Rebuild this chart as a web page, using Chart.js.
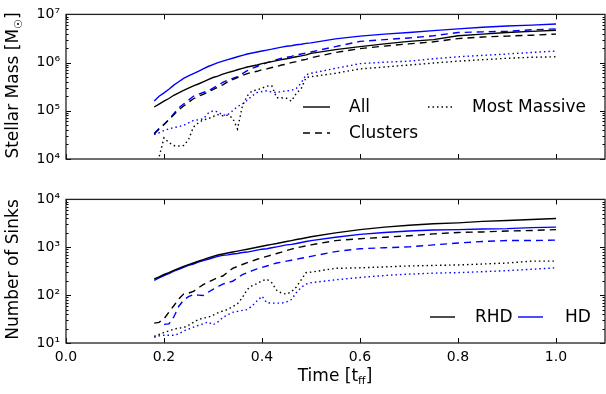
<!DOCTYPE html>
<html lang="en">
<head>
<meta charset="UTF-8">
<title>Stellar mass and sinks</title>
<style>
  body { margin: 0; background: #fff; }
  .panel { position: absolute; left: 0; width: 606px; }
</style>
</head>
<body>
<div class="panel" style="top:0; height:185px;"><canvas id="massChart"></canvas></div>
<div class="panel" style="top:185px; height:209px;"><canvas id="sinkChart"></canvas></div>

<script src="https://cdn.jsdelivr.net/npm/chart.js"></script>
<script>
// time in free-fall times
const time = [0.18, 0.19, 0.20, 0.21, 0.22, 0.23, 0.24, 0.25, 0.26, 0.27, 0.28, 0.29, 0.30,
    0.31, 0.32, 0.33, 0.34, 0.35, 0.36, 0.37, 0.38, 0.39, 0.40, 0.41, 0.42, 0.43, 0.44,
    0.45, 0.46, 0.47, 0.48, 0.49, 0.50, 0.55, 0.60, 0.65, 0.70, 0.75, 0.80, 0.85, 0.90, 0.95, 1.00];

// stellar mass [Msun]
const massAllRHD = [1.2e5, 1.38e5, 1.58e5, 1.8e5, 2.1e5, 2.35e5, 2.65e5, 2.95e5, 3.3e5, 3.6e5, 4.0e5, 4.45e5, 4.9e5,
    5.25e5, 5.75e5, 6.2e5, 6.6e5, 7.1e5, 7.6e5, 8.1e5, 8.5e5, 8.9e5, 9.5e5, 1.0e6, 1.05e6, 1.1e6, 1.15e6,
    1.2e6, 1.26e6, 1.32e6, 1.38e6, 1.45e6, 1.55e6, 1.86e6, 2.15e6, 2.45e6, 2.75e6, 3.0e6, 3.6e6, 3.9e6, 4.2e6, 4.45e6, 4.7e6];
const massAllHD = [1.6e5, 2.0e5, 2.35e5, 2.8e5, 3.4e5, 4.0e5, 4.7e5, 5.3e5, 5.9e5, 6.6e5, 7.4e5, 8.3e5, 9.1e5,
    1.0e6, 1.07e6, 1.15e6, 1.23e6, 1.32e6, 1.41e6, 1.51e6, 1.58e6, 1.66e6, 1.74e6, 1.82e6, 1.9e6, 2.0e6, 2.1e6,
    2.19e6, 2.24e6, 2.34e6, 2.4e6, 2.5e6, 2.57e6, 3.1e6, 3.55e6, 3.9e6, 4.2e6, 4.6e6, 5.0e6, 5.4e6, 5.75e6, 6.0e6, 6.3e6];
const massClRHD = [3.3e4, 4.2e4, 5.2e4, 6.6e4, 8.3e4, 1.05e5, 1.26e5, 1.5e5, 1.78e5, 2.0e5, 2.2e5, 2.45e5, 2.75e5,
    3.1e5, 3.45e5, 4.0e5, 4.45e5, 4.9e5, 5.4e5, 5.9e5, 6.3e5, 6.6e5, 7.1e5, 7.4e5, 7.9e5, 8.3e5, 8.9e5,
    9.3e5, 1.0e6, 1.05e6, 1.12e6, 1.17e6, 1.26e6, 1.62e6, 1.95e6, 2.2e6, 2.45e6, 2.7e6, 3.15e6, 3.4e6, 3.55e6, 3.7e6, 3.9e6];
const massClHD = [3.4e4, 4.3e4, 5.2e4, 6.6e4, 8.7e4, 1.15e5, 1.38e5, 1.66e5, 2.0e5, 2.2e5, 2.4e5, 2.6e5, 2.95e5,
    3.4e5, 3.9e5, 4.3e5, 4.7e5, 5.1e5, 5.9e5, 6.8e5, 7.6e5, 8.3e5, 9.1e5, 1.0e6, 1.07e6, 1.15e6, 1.23e6,
    1.29e6, 1.35e6, 1.45e6, 1.51e6, 1.58e6, 1.66e6, 2.15e6, 2.75e6, 3.0e6, 3.25e6, 3.6e6, 4.2e6, 4.35e6, 4.45e6, 4.8e6, 5.0e6];
const massMaxRHD = [8e3, 1.1e4, 2.75e4, 2.2e4, 1.9e4, 1.86e4, 1.9e4, 2.5e4, 4.6e4, 5.6e4, 6.5e4, 6.8e4, 7.6e4,
    8.3e4, 7.9e4, 8.1e4, 7.1e4, 4.2e4, 1.26e5, 2.05e5, 2.6e5, 2.7e5, 2.95e5, 3.25e5, 3.3e5, 1.86e5, 1.86e5,
    1.82e5, 1.58e5, 2.3e5, 2.9e5, 4.9e5, 5.1e5, 6.0e5, 7.4e5, 8.1e5, 8.9e5, 9.8e5, 1.07e6, 1.15e6, 1.23e6, 1.29e6, 1.32e6];
const massMaxHD = [3.2e4, 3.5e4, 3.9e4, 4.2e4, 4.5e4, 4.7e4, 5.0e4, 5.6e4, 6.3e4, 6.5e4, 6.8e4, 8.9e4, 1.0e5,
    9.5e4, 8.1e4, 8.3e4, 1.0e5, 1.23e5, 1.38e5, 1.66e5, 2.05e5, 2.4e5, 2.5e5, 2.6e5, 2.45e5, 2.4e5, 2.5e5,
    2.6e5, 2.65e5, 2.9e5, 3.8e5, 5.6e5, 6.0e5, 7.6e5, 9.5e5, 1.02e6, 1.07e6, 1.2e6, 1.32e6, 1.41e6, 1.51e6, 1.62e6, 1.74e6];

// number of sinks
const sinksAllRHD = [219, 240, 270, 295, 330, 363, 400, 435, 470, 510, 550, 600, 645,
    690, 725, 760, 795, 830, 870, 910, 955, 1000, 1050, 1100, 1150, 1200, 1260,
    1320, 1380, 1450, 1510, 1580, 1660, 2000, 2340, 2630, 2880, 3090, 3240, 3470, 3630, 3800, 3980];
const sinksAllHD = [204, 229, 257, 282, 316, 347, 380, 417, 447, 490, 525, 562, 603,
    645, 676, 692, 724, 741, 776, 794, 832, 871, 912, 933, 977, 1020, 1070,
    1120, 1150, 1200, 1260, 1320, 1380, 1620, 1860, 2040, 2190, 2290, 2340, 2400, 2450, 2570, 2630];
const sinksClRHD = [26, 27, 32, 44, 60, 83, 105, 110, 120, 141, 166, 186, 209,
    234, 251, 302, 363, 398, 437, 479, 513, 562, 603, 646, 692, 741, 794,
    851, 912, 977, 1020, 1070, 1120, 1380, 1510, 1620, 1740, 1900, 2040, 2090, 2190, 2240, 2340];
const sinksClHD = [null, null, 24.5, 25, 35, 58, 79, 93, 102, 100, 98, 115, 132,
    151, 170, 182, 195, 229, 269, 295, 324, 355, 380, 407, 437, 468, 490,
    513, 537, 562, 589, 617, 646, 813, 933, 977, 1020, 1120, 1230, 1320, 1380, 1380, 1410];
const sinksMaxRHD = [13.8, 15.1, 16.6, 17.8, 19.5, 20.4, 20.9, 23.4, 26.9, 30.9, 33.1, 34.7, 38,
    42.7, 46.8, 50, 57.5, 66, 89, 132, 158, 174, 200, 214, 182, 126, 110,
    105, 117, 148, 209, 295, 302, 363, 372, 389, 407, 417, 427, 447, 468, 513, 513];
const sinksMaxHD = [13.2, 14.1, 14.5, 14.5, 14.5, 15.5, 17.8, 19.5, 21.4, 23.4, 25.1, 27.5, 24,
    27.5, 33.9, 38.9, 43.7, 45.7, 47.9, 50, 60, 76, 95, 69, 68, 68, 68,
    72, 81, 112, 145, 170, 182, 209, 234, 257, 275, 288, 295, 309, 324, 347, 372];

const xTicks = [0.0, 0.2, 0.4, 0.6, 0.8, 1.0];
const massTicks = [1e4, 1e5, 1e6, 1e7];
const sinkTicks = [1e1, 1e2, 1e3, 1e4];
const styleLabels = ['All', 'Clusters', 'Most Massive'];
const runLabels = ['RHD', 'HD'];

const FONT = "'DejaVu Sans', sans-serif";
const BLACK = '#000000';
const BLUE = '#0000ff';
const DASH = [7, 5];
const DOT = [1.5, 3];

const SUP = {'0': '⁰', '1': '¹', '2': '²', '3': '³', '4': '⁴', '5': '⁵', '6': '⁶', '7': '⁷', '8': '⁸', '9': '⁹'};
function powLabel(v) {
    const e = Math.round(Math.log10(v));
    return '10' + String(e).split('').map(c => SUP[c]).join('');
}

function series(label, values, color, dash) {
    return {
        label: label,
        data: values.map((v, i) => ({x: time[i], y: v})),
        borderColor: color,
        borderWidth: 1.4,
        borderDash: dash,
        pointRadius: 0,
        fill: false,
        tension: 0,
        spanGaps: false
    };
}

// frame + inward ticks like the old matplotlib style
const framePlugin = {
    id: 'frame',
    afterDraw(chart) {
        const ctx = chart.ctx;
        const a = chart.chartArea;
        const xs = chart.scales.x, ys = chart.scales.y;
        ctx.save();
        ctx.strokeStyle = '#000';
        ctx.lineWidth = 1;
        ctx.beginPath();
        xTicks.forEach(v => {
            const px = Math.round(xs.getPixelForValue(v)) + 0.5;
            ctx.moveTo(px, a.bottom); ctx.lineTo(px, a.bottom - 5);
            ctx.moveTo(px, a.top); ctx.lineTo(px, a.top + 5);
        });
        const lo = Math.log10(ys.min), hi = Math.log10(ys.max);
        for (let e = lo; e <= hi; e++) {
            for (let k = 1; k <= 9; k++) {
                const v = k * Math.pow(10, e);
                if (v > ys.max * 1.0001) break;
                const len = k === 1 ? 5 : 2.5;
                const py = Math.round(ys.getPixelForValue(v)) + 0.5;
                ctx.moveTo(a.left, py); ctx.lineTo(a.left + len, py);
                ctx.moveTo(a.right, py); ctx.lineTo(a.right - len, py);
            }
        }
        ctx.stroke();
        ctx.lineWidth = 1.3;
        ctx.strokeStyle = '#222';
        ctx.strokeRect(a.left, a.top, a.right - a.left, a.bottom - a.top);
        ctx.restore();
    }
};

function legendLine(ctx, x, y, len, color, dash) {
    ctx.beginPath();
    ctx.strokeStyle = color;
    ctx.lineWidth = 1.4;
    ctx.setLineDash(dash);
    ctx.moveTo(x, y); ctx.lineTo(x + len, y);
    ctx.stroke();
    ctx.setLineDash([]);
}

// draws a title in pieces so a subscript can sit in it
function drawParts(ctx, parts, cx, cy) {
    let total = 0;
    parts.forEach(p => {
        ctx.font = p.size + 'px ' + FONT;
        p.w = ctx.measureText(p.text).width;
        total += p.w;
    });
    let x = cx - total / 2;
    parts.forEach(p => {
        ctx.font = p.size + 'px ' + FONT;
        ctx.fillText(p.text, x, cy + (p.shift || 0));
        x += p.w;
    });
}

function titlePlugin(yParts, yCenter, xParts) {
    return {
        id: 'titles',
        afterDraw(chart) {
            const ctx = chart.ctx;
            ctx.save();
            ctx.fillStyle = '#000';
            ctx.textAlign = 'left';
            ctx.textBaseline = 'middle';
            ctx.save();
            ctx.translate(14, yCenter);
            ctx.rotate(-Math.PI / 2);
            drawParts(ctx, yParts, 0, 0);
            ctx.restore();
            if (xParts) {
                drawParts(ctx, xParts, 335, 192);
            }
            ctx.restore();
        }
    };
}

const massLegend = {
    id: 'massLegend',
    afterDraw(chart) {
        const ctx = chart.ctx;
        ctx.save();
        ctx.font = '17px ' + FONT;
        ctx.fillStyle = '#000';
        ctx.textBaseline = 'middle';
        legendLine(ctx, 303, 107, 27, BLACK, []);
        ctx.fillText(styleLabels[0], 349, 108);
        legendLine(ctx, 303, 133, 27, BLACK, DASH);
        ctx.fillText(styleLabels[1], 349, 134);
        legendLine(ctx, 428, 107, 25, BLACK, DOT);
        ctx.fillText(styleLabels[2], 472, 108);
        ctx.restore();
    }
};

const sinkLegend = {
    id: 'sinkLegend',
    afterDraw(chart) {
        const ctx = chart.ctx;
        ctx.save();
        ctx.font = '17px ' + FONT;
        ctx.fillStyle = '#000';
        ctx.textBaseline = 'middle';
        legendLine(ctx, 430, 132, 25, BLACK, []);
        ctx.fillText(runLabels[0], 475, 133);
        legendLine(ctx, 518, 132, 25, BLUE, []);
        ctx.fillText(runLabels[1], 565, 133);
        ctx.restore();
    }
};

function panelOptions(yMin, yMax, yTicks, bottom) {
    return {
        responsive: true,
        maintainAspectRatio: false,
        animation: false,
        layout: {
            padding: bottom ? {top: 11, right: 1, bottom: 0, left: 0}
                            : {top: 12, right: 1, bottom: 26, left: 0}
        },
        plugins: {
            legend: {display: false},
            tooltip: {enabled: false}
        },
        scales: {
            x: {
                type: 'linear',
                min: 0,
                max: 1.1,
                display: bottom,
                afterBuildTicks: s => { s.ticks = xTicks.map(v => ({value: v})); },
                afterFit: s => { s.height = bottom ? 51 : 0; },
                grid: {display: false, drawTicks: false},
                border: {display: false},
                ticks: {
                    color: '#000',
                    padding: 6,
                    maxRotation: 0,
                    font: {family: FONT, size: 14},
                    callback: v => v.toFixed(1)
                }
            },
            y: {
                type: 'logarithmic',
                min: yMin,
                max: yMax,
                afterBuildTicks: s => { s.ticks = yTicks.map(v => ({value: v, major: true})); },
                afterFit: s => { s.width = 66; },
                grid: {display: false, drawTicks: false},
                border: {display: false},
                ticks: {
                    color: '#000',
                    padding: 6,
                    autoSkip: false,
                    font: {family: FONT, size: 14},
                    callback: v => powLabel(v)
                }
            }
        }
    };
}

new Chart(document.getElementById('massChart'), {
    type: 'line',
    data: {
        datasets: [
            series('RHD all', massAllRHD, BLACK, []),
            series('HD all', massAllHD, BLUE, []),
            series('RHD clusters', massClRHD, BLACK, DASH),
            series('HD clusters', massClHD, BLUE, DASH),
            series('RHD most massive', massMaxRHD, BLACK, DOT),
            series('HD most massive', massMaxHD, BLUE, DOT)
        ]
    },
    options: panelOptions(1e4, 1e7, massTicks, false),
    plugins: [framePlugin, massLegend,
        titlePlugin([{text: 'Stellar Mass [M', size: 17}, {text: '☉', size: 11, shift: 5}, {text: ']', size: 17}], 85.5, null)]
});

new Chart(document.getElementById('sinkChart'), {
    type: 'line',
    data: {
        datasets: [
            series('RHD all', sinksAllRHD, BLACK, []),
            series('HD all', sinksAllHD, BLUE, []),
            series('RHD clusters', sinksClRHD, BLACK, DASH),
            series('HD clusters', sinksClHD, BLUE, DASH),
            series('RHD most massive', sinksMaxRHD, BLACK, DOT),
            series('HD most massive', sinksMaxHD, BLUE, DOT)
        ]
    },
    options: panelOptions(1e1, 1e4, sinkTicks, true),
    plugins: [framePlugin, sinkLegend,
        titlePlugin([{text: 'Number of Sinks', size: 17}], 84.5,
            [{text: 'Time [t', size: 17}, {text: 'ff', size: 11, shift: 4}, {text: ']', size: 17}])]
});
</script>
</body>
</html>
